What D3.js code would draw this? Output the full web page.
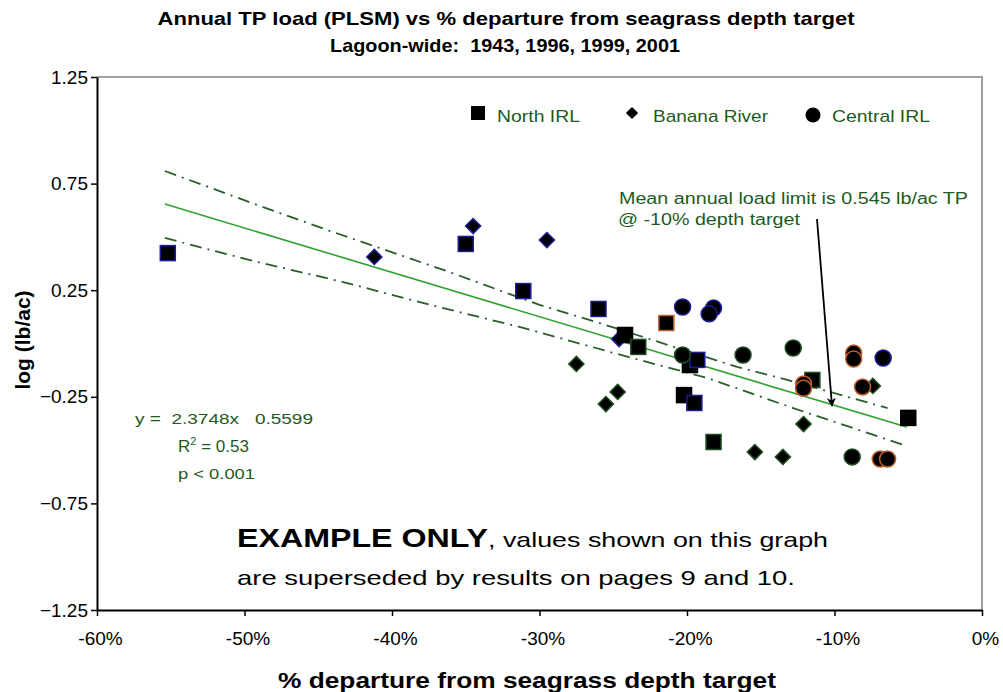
<!DOCTYPE html>
<html>
<head>
<meta charset="utf-8">
<script src="https://cdn.jsdelivr.net/npm/d3@7"></script>
<style>
  body { margin: 0; background: #fff; }
  svg { display: block; }
  text { font-family: Arial, "Liberation Sans", sans-serif; }
</style>
</head>
<body>
<div id="chart"></div>
<script>
// values: x = % departure, y = log(lb/ac), set = outline group
var northX = [-55.2, -35.0, -31.1, -26.0, -21.4, -24.2, -23.3, -19.8, -19.3, -20.2, -19.5, -18.2, -11.5, -5.0];
var northY = [0.424, 0.467, 0.246, 0.162, 0.096, 0.040, -0.016, -0.101, -0.077, -0.242, -0.279, -0.462, -0.171, -0.349];
var northSet = [1, 1, 1, 1, 2, 4, 3, 4, 1, 4, 1, 3, 3, 4];

var bananaX = [-41.2, -34.5, -29.5, -24.6, -27.5, -24.7, -25.5, -15.4, -13.5, -12.1, -7.4];
var bananaY = [0.406, 0.551, 0.485, 0.021, -0.096, -0.227, -0.284, -0.509, -0.532, -0.378, -0.199];
var bananaSet = [1, 1, 1, 1, 3, 3, 3, 3, 3, 3, 3];

var centralX = [-20.3, -18.2, -18.5, -20.3, -16.2, -12.8, -8.7, -8.7, -6.7, -12.1, -12.1, -8.1, -8.8, -6.9, -6.4];
var centralY = [0.171, 0.166, 0.139, -0.054, -0.054, -0.021, -0.045, -0.073, -0.068, -0.190, -0.210, -0.204, -0.532, -0.542, -0.542];
var centralSet = [1, 1, 1, 3, 3, 3, 2, 2, 1, 2, 2, 2, 3, 2, 2];

// regression line and confidence band
var trendX = [-55.4, -5.1];
var trendY = [0.654, -0.392];
var upperX = [-55.4, -49.5, -44.0, -36.3, -30.0, -25.7, -21.3, -16.6, -13.2, -6.4];
var upperY = [0.809, 0.659, 0.523, 0.340, 0.181, 0.091, -0.007, -0.110, -0.171, -0.303];
var lowerX = [-55.4, -49.4, -43.3, -37.4, -31.3, -24.0, -18.6, -12.8, -5.1];
var lowerY = [0.495, 0.387, 0.288, 0.181, 0.077, -0.063, -0.162, -0.303, -0.481];

var xTicks = [-60, -50, -40, -30, -20, -10, 0];
var yTicks = [1.25, 0.75, 0.25, -0.25, -0.75, -1.25];
var legendNames = ["North IRL", "Banana River", "Central IRL"];

var svgWidth = 1003;
var svgHeight = 692;
var plot = { left: 97, top: 77, right: 982, bottom: 610 };
var txtGreen = "#1d5a1d";

var svg = d3.select("#chart").append("svg")
  .attr("width", svgWidth)
  .attr("height", svgHeight);

var x = d3.scaleLinear().domain([-60, 0]).range([plot.left, plot.right]);
var y = d3.scaleLinear().domain([-1.25, 1.25]).range([plot.bottom, plot.top]);

var outline = d3.scaleOrdinal()
  .domain([1, 2, 3, 4])
  .range(["#1c1c9a", "#c0602a", "#1e4d1e", "#000000"]);

// titles
svg.append("text")
  .attr("x", 506).attr("y", 25)
  .attr("text-anchor", "middle")
  .attr("font-size", 19).attr("font-weight", "bold")
  .attr("textLength", 697).attr("lengthAdjust", "spacingAndGlyphs")
  .text("Annual TP load (PLSM) vs % departure from seagrass depth target");

svg.append("text")
  .attr("x", 505).attr("y", 52)
  .attr("text-anchor", "middle")
  .attr("font-size", 19).attr("font-weight", "bold")
  .attr("textLength", 350).attr("lengthAdjust", "spacingAndGlyphs")
  .attr("xml:space", "preserve")
  .text("Lagoon-wide:  1943, 1996, 1999, 2001");

// frame top/right
svg.append("path")
  .attr("d", `M${plot.left},${plot.top}H${plot.right}V${plot.bottom}`)
  .attr("fill", "none")
  .attr("stroke", "#a0a0a0")
  .attr("stroke-width", 2);

// axes
var xAxis = d3.axisBottom(x)
  .tickValues(xTicks)
  .tickFormat(d => d + "%")
  .tickSize(6).tickSizeOuter(0).tickPadding(16);

var yAxis = d3.axisLeft(y)
  .tickValues(yTicks)
  .tickFormat(d3.format(".2f"))
  .tickSize(6).tickSizeOuter(0).tickPadding(3);

var gx = svg.append("g")
  .attr("transform", `translate(0,${plot.bottom})`)
  .call(xAxis);

var gy = svg.append("g")
  .attr("transform", `translate(${plot.left},0)`)
  .call(yAxis);

[gx, gy].forEach(g => {
  g.attr("font-size", 19);
  g.select(".domain").attr("stroke", "#000").attr("stroke-width", 2);
  g.selectAll(".tick line").attr("stroke", "#000").attr("stroke-width", 1.5);
  g.selectAll(".tick text")
    .attr("fill", "#000")
    .attr("font-size", 19)
    .attr("font-family", "Arial, 'Liberation Sans', sans-serif");
});
gx.selectAll(".tick text").attr("dx", 3);

// axis titles
svg.append("text")
  .attr("x", 527).attr("y", 688)
  .attr("text-anchor", "middle")
  .attr("font-size", 22).attr("font-weight", "bold")
  .attr("textLength", 498).attr("lengthAdjust", "spacingAndGlyphs")
  .text("% departure from seagrass depth target");

svg.append("text")
  .attr("transform", "translate(30,340) rotate(-90)")
  .attr("text-anchor", "middle")
  .attr("font-size", 21).attr("font-weight", "bold")
  .text("log (lb/ac)");

// regression line + confidence band
var line = d3.line().x(d => x(d[0])).y(d => y(d[1]));

svg.append("path")
  .datum(d3.zip(upperX, upperY))
  .attr("d", line)
  .attr("fill", "none")
  .attr("stroke", "#2b5e2b")
  .attr("stroke-width", 1.8)
  .attr("stroke-dasharray", "12,6,2,6");

svg.append("path")
  .datum(d3.zip(lowerX, lowerY))
  .attr("d", line)
  .attr("fill", "none")
  .attr("stroke", "#2b5e2b")
  .attr("stroke-width", 1.8)
  .attr("stroke-dasharray", "12,6,2,6");

svg.append("path")
  .datum(d3.zip(trendX, trendY))
  .attr("d", line)
  .attr("fill", "none")
  .attr("stroke", "#2ea12e")
  .attr("stroke-width", 1.6);

// points: diamonds, squares, circles
var diamond = d3.symbol().type(d3.symbolSquare).size(115);

svg.append("g").selectAll("path")
  .data(d3.zip(bananaX, bananaY, bananaSet))
  .enter().append("path")
  .attr("d", diamond)
  .attr("transform", d => `translate(${x(d[0])},${y(d[1])}) rotate(45)`)
  .attr("fill", "#000")
  .attr("stroke", d => outline(d[2]))
  .attr("stroke-width", 1.5);

svg.append("g").selectAll("rect")
  .data(d3.zip(northX, northY, northSet))
  .enter().append("rect")
  .attr("x", d => x(d[0]) - 7.5)
  .attr("y", d => y(d[1]) - 7.5)
  .attr("width", 15)
  .attr("height", 15)
  .attr("fill", "#000")
  .attr("stroke", d => outline(d[2]))
  .attr("stroke-width", 1.5);

svg.append("g").selectAll("circle")
  .data(d3.zip(centralX, centralY, centralSet))
  .enter().append("circle")
  .attr("cx", d => x(d[0]))
  .attr("cy", d => y(d[1]))
  .attr("r", 8)
  .attr("fill", "#000")
  .attr("stroke", d => outline(d[2]))
  .attr("stroke-width", 1.5);

// legend
var legend = svg.append("g").attr("font-size", 17).attr("fill", txtGreen);
var legendX = [478, 632, 813];
var legendTextX = [497, 653, 832];
var legendTextW = [83, 115, 98];

legend.append("rect").attr("x", legendX[0] - 7).attr("y", 106).attr("width", 14).attr("height", 14).attr("fill", "#000");
legend.append("path").attr("d", d3.symbol().type(d3.symbolSquare).size(75))
  .attr("transform", `translate(${legendX[1]},113) rotate(45)`).attr("fill", "#000");
legend.append("circle").attr("cx", legendX[2]).attr("cy", 115).attr("r", 7.5).attr("fill", "#000");

legendNames.forEach((name, i) => {
  legend.append("text")
    .attr("x", legendTextX[i]).attr("y", 122)
    .attr("textLength", legendTextW[i]).attr("lengthAdjust", "spacingAndGlyphs")
    .text(name);
});

// annotation + arrow
svg.append("text")
  .attr("x", 619).attr("y", 204)
  .attr("font-size", 16).attr("fill", txtGreen)
  .attr("textLength", 349).attr("lengthAdjust", "spacingAndGlyphs")
  .text("Mean annual load limit is 0.545 lb/ac TP");
svg.append("text")
  .attr("x", 618).attr("y", 225)
  .attr("font-size", 16).attr("fill", txtGreen)
  .attr("textLength", 182).attr("lengthAdjust", "spacingAndGlyphs")
  .text("@ -10% depth target");

svg.append("defs").append("marker")
  .attr("id", "arrow")
  .attr("viewBox", "0 0 10 10")
  .attr("refX", 9).attr("refY", 5)
  .attr("markerWidth", 9).attr("markerHeight", 9)
  .attr("markerUnits", "userSpaceOnUse")
  .attr("orient", "auto")
  .append("path").attr("d", "M0,0L10,5L0,10L3,5z").attr("fill", "#000");

svg.append("line")
  .attr("x1", 817).attr("y1", 219)
  .attr("x2", 832).attr("y2", 406)
  .attr("stroke", "#000").attr("stroke-width", 1.8)
  .attr("marker-end", "url(#arrow)");

// regression stats
var stats = svg.append("g").attr("font-size", 15).attr("fill", txtGreen);
stats.append("text").attr("x", 135).attr("y", 424)
  .attr("xml:space", "preserve")
  .attr("textLength", 178).attr("lengthAdjust", "spacingAndGlyphs")
  .text("y =  2.3748x   0.5599");
var r2 = stats.append("text").attr("x", 178).attr("y", 452).attr("font-size", 17);
r2.append("tspan").text("R");
r2.append("tspan").attr("font-size", 11).attr("dy", -7).text("2");
r2.append("tspan").attr("dy", 7).text(" = 0.53");
stats.append("text").attr("x", 178).attr("y", 479)
  .attr("textLength", 77).attr("lengthAdjust", "spacingAndGlyphs")
  .text("p < 0.001");

// disclaimer
var note = svg.append("text").attr("x", 237).attr("y", 547).attr("fill", "#000");
note.append("tspan").attr("font-size", 25).attr("font-weight", "bold")
  .attr("textLength", 251).attr("lengthAdjust", "spacingAndGlyphs")
  .text("EXAMPLE ONLY");
note.append("tspan").attr("font-size", 21)
  .attr("textLength", 340).attr("lengthAdjust", "spacingAndGlyphs")
  .text(", values shown on this graph");
svg.append("text").attr("x", 237).attr("y", 585)
  .attr("font-size", 21).attr("fill", "#000")
  .attr("textLength", 558).attr("lengthAdjust", "spacingAndGlyphs")
  .text("are superseded by results on pages 9 and 10.");
</script>
</body>
</html>
